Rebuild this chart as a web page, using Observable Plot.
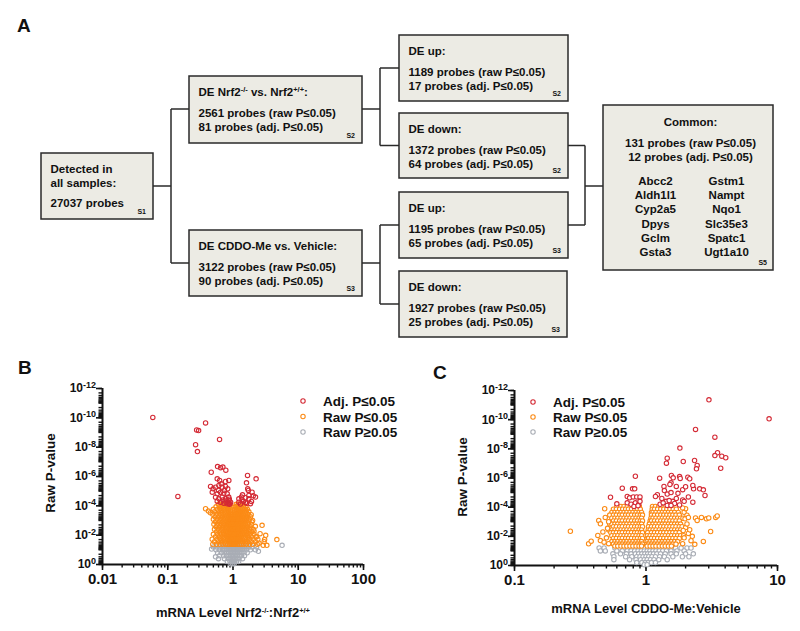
<!DOCTYPE html>
<html><head><meta charset="utf-8">
<script src="https://cdn.jsdelivr.net/npm/d3@7"></script>
<script src="https://cdn.jsdelivr.net/npm/@observablehq/plot@0.6"></script>
<style>
html,body{margin:0;padding:0;background:#fff;}
#root{position:relative;width:800px;height:631px;overflow:hidden;font-family:"Liberation Sans",Arial,sans-serif;font-weight:bold;color:#111;}
.abs{position:absolute;}
.plotwrap svg{overflow:visible;}
.plotwrap g[aria-label^="x-axis"] text{font-size:15px;}
.plotwrap g[aria-label^="y-axis"] text{font-size:12px;}
.plotwrap g[aria-label^="x-axis"] line,.plotwrap g[aria-label^="x-axis"] path,
.plotwrap g[aria-label^="y-axis"] line,.plotwrap g[aria-label^="y-axis"] path{stroke-width:1.4px;stroke:#111;}
</style></head><body><div id="root"></div>
<script>
// ---------------- Panel A content ----------------
const s1Lines = [["Detected in"],["all samples:"],["27037 probes"]];
const s2Lines = [["DE Nrf2",{sup:"-/-"}," vs. Nrf2",{sup:"+/+"},":"],["2561 probes (raw P≤0.05)"],["81 probes (adj. P≤0.05)"]];
const s3Lines = [["DE CDDO-Me vs. Vehicle:"],["3122 probes (raw P≤0.05)"],["90 probes (adj. P≤0.05)"]];
const up2Lines = [["DE up:"],["1189 probes (raw P≤0.05)"],["17 probes (adj. P≤0.05)"]];
const dn2Lines = [["DE down:"],["1372 probes (raw P≤0.05)"],["64 probes (adj. P≤0.05)"]];
const up3Lines = [["DE up:"],["1195 probes (raw P≤0.05)"],["65 probes (adj. P≤0.05)"]];
const dn3Lines = [["DE down:"],["1927 probes (raw P≤0.05)"],["25 probes (adj. P≤0.05)"]];
const commonLines = ["Common:","131 probes (raw P≤0.05)","12 probes (adj. P≤0.05)"];
const commonGenesLeft = ["Abcc2","Aldh1l1","Cyp2a5","Dpys","Gclm","Gsta3"];
const commonGenesRight = ["Gstm1","Nampt","Nqo1","Slc35e3","Spatc1","Ugt1a10"];

// ---------------- Panel B / C data: [ratio, -log10(raw P)] ----------------
const bXTicks = [0.01,0.1,1,10,100];
const cXTicks = [0.1,1,10];
const yTicks = [0,2,4,6,8,10,12];
const minorMultipliers = [2,3,4,5,6,7,8,9];
const legendLabels = ["Adj. P≤0.05","Raw P≤0.05","Raw P≥0.05"];

const bRed = [[0.059,10.03],[0.38,9.65],[0.277,9.17],[0.297,9.13],[0.622,8.53],[0.267,8.17],[0.285,7.70],[0.143,4.64],[0.464,6.29],
 [0.58,6.68],[0.644,6.60],[0.70,6.64],[0.776,6.43],[1.67,6.07],[2.26,5.84],[1.61,5.57],[1.68,5.16],[1.72,5.05],
 [1.96,4.93],[1.75,4.71],[2.05,4.68],[1.55,4.55],[1.23,4.48],[1.38,4.42],[1.75,4.48],[1.92,4.30],[1.23,4.25],[1.55,4.22],
 [1.30,4.12],[1.45,4.30],[1.62,4.18],[2.21,4.60],[1.40,4.75],[1.85,4.15],[1.35,4.60],
 [0.573,5.84],[0.623,5.73],[0.768,5.66],[0.863,5.73],[0.453,5.32],[0.495,5.16],[0.54,5.27],[0.607,5.39],[0.683,5.27],
 [0.768,5.32],[0.83,5.16],[0.481,4.93],[0.573,4.82],[0.644,4.93],[0.723,4.86],[0.815,4.82],[0.54,4.59],[0.607,4.48],
 [0.683,4.59],[0.768,4.48],[0.863,4.37],[0.644,4.25],[0.723,4.18],[0.815,4.14],[0.88,4.10],[0.573,4.32],[0.70,4.40],
 [0.78,4.25],[0.85,4.20],[0.90,4.15],[0.60,5.05],[0.66,5.50],[0.74,5.05],[0.86,4.60],[0.92,4.25],[0.88,4.45],[0.80,4.35]];

const bOrangeRows = [
 [4.10,[0.60,0.66,0.73,0.80,0.87,1.12,1.20,1.30,1.42]],
 [3.93,[0.55,0.62,0.68,0.75,0.82,0.88,0.93,1.08,1.15,1.24,1.34,1.45,1.58]],
 [3.76,[0.50,0.58,0.64,0.71,0.78,0.85,0.91,1.07,1.13,1.21,1.30,1.40,1.52,1.66]],
 [3.59,[0.52,0.60,0.67,0.74,0.81,0.87,0.93,1.06,1.12,1.19,1.27,1.37,1.48,1.60,1.75]],
 [3.42,[0.49,0.56,0.63,0.70,0.77,0.84,0.90,0.95,1.05,1.11,1.18,1.25,1.34,1.44,1.56,1.70]],
 [3.25,[0.53,0.60,0.67,0.74,0.80,0.86,0.92,0.96,1.04,1.09,1.15,1.22,1.30,1.40,1.52,1.65,1.85]],
 [3.08,[0.50,0.57,0.64,0.71,0.78,0.84,0.89,0.94,0.98,1.03,1.08,1.14,1.21,1.29,1.38,1.49,1.62,1.78]],
 [2.91,[0.54,0.61,0.68,0.75,0.81,0.86,0.91,0.95,0.99,1.02,1.07,1.12,1.19,1.27,1.36,1.46,1.58,1.74,1.95]],
 [2.74,[0.51,0.58,0.65,0.72,0.79,0.85,0.90,0.95,0.98,1.02,1.06,1.11,1.17,1.24,1.33,1.43,1.55,1.70,1.90]],
 [2.57,[0.55,0.62,0.69,0.76,0.82,0.88,0.93,0.97,1.00,1.04,1.09,1.15,1.22,1.30,1.40,1.52,1.66,1.84]],
 [2.40,[0.52,0.59,0.66,0.73,0.80,0.86,0.91,0.96,1.00,1.04,1.09,1.14,1.21,1.29,1.38,1.50,1.64,1.80,2.05]],
 [2.23,[0.56,0.63,0.70,0.77,0.83,0.89,0.94,0.98,1.02,1.07,1.12,1.19,1.27,1.36,1.47,1.60,1.76,1.95]],
 [2.06,[0.50,0.58,0.65,0.72,0.79,0.85,0.90,0.95,0.99,1.03,1.08,1.14,1.21,1.29,1.39,1.51,1.65,1.83,2.10]],
 [1.89,[0.54,0.61,0.68,0.75,0.82,0.87,0.92,0.96,1.00,1.04,1.09,1.16,1.24,1.33,1.43,1.56,1.72,1.92,2.25]],
 [1.72,[0.48,0.57,0.64,0.71,0.78,0.84,0.89,0.94,0.98,1.02,1.06,1.12,1.19,1.27,1.37,1.49,1.63,1.80,2.05,2.40]],
 [1.55,[0.52,0.60,0.67,0.74,0.81,0.87,0.92,0.96,1.00,1.04,1.09,1.15,1.22,1.31,1.41,1.54,1.70,1.90,2.20]],
 [1.38,[0.49,0.56,0.63,0.70,0.77,0.83,0.88,0.93,0.97,1.01,1.05,1.10,1.17,1.25,1.34,1.46,1.60,1.78,2.00,2.35]]];
const bOrangeExtra = [[0.38,3.80],[0.42,3.64],[0.45,3.53],[2.79,2.67],[3.17,1.99],[4.70,1.70],[2.90,1.31],[3.30,1.31],
 [2.10,2.28],[2.50,1.45],[3.00,1.55],[2.30,1.90],[3.05,1.70],[2.60,2.10],[2.20,2.60],[2.00,3.00],[1.90,3.40]];

const bGrayRows = [
 [1.20,[0.50,0.56,0.62,0.68,0.74,0.80,0.85,0.90,0.95,1.00,1.05,1.10,1.16,1.23,1.31,1.40,1.50,1.62,1.76,1.95,2.30]],
 [1.00,[0.55,0.62,0.69,0.75,0.81,0.87,0.92,0.97,1.02,1.07,1.13,1.20,1.28,1.37,1.48,1.62,1.85,2.20]],
 [0.80,[0.58,0.66,0.73,0.80,0.86,0.91,0.96,1.01,1.06,1.12,1.19,1.27,1.36,1.48,1.65]],
 [0.60,[0.62,0.72,0.80,0.87,0.93,0.98,1.03,1.09,1.16,1.24,1.34,1.50]],
 [0.40,[0.60,0.74,0.84,0.91,0.97,1.02,1.08,1.15,1.24,1.40]],
 [0.20,[0.82,0.90,0.96,1.01,1.06,1.13,1.22]],
 [0.05,[0.93,0.99,1.04]]];
const bGrayExtra = [[5.65,1.31],[0.54,0.52],[2.45,0.90],[0.47,1.05]];

const cRed = [[3.01,11.36],[8.63,10.06],[2.38,9.33],[3.34,8.80],[1.81,8.05],[3.50,7.73],[3.34,7.54],[3.77,7.50],[4.04,7.39],
 [3.70,6.67],[1.45,7.36],[1.43,7.02],[1.92,7.13],[2.34,7.20],[2.45,6.86],[2.42,6.63],[0.83,6.12],[1.27,5.99],[1.56,6.17],
 [1.61,6.01],[1.80,6.10],[1.82,5.97],[2.08,6.06],[2.15,5.95],[1.55,5.67],[1.52,5.56],[1.37,5.42],[1.38,5.14],[1.70,5.42],
 [1.90,5.20],[2.00,5.40],[2.30,5.26],[2.27,5.49],[2.56,5.26],[2.73,5.19],[2.81,4.80],[1.45,4.90],[1.55,5.00],[1.75,4.95],
 [1.22,4.85],[1.18,4.73],[1.32,4.60],[1.42,4.40],[1.60,4.40],[1.65,4.25],[1.90,4.50],[1.95,4.40],[2.27,4.34],[1.45,4.12],
 [1.55,4.12],[1.28,4.20],[1.80,4.15],[1.35,4.30],[1.70,4.60],[2.10,4.70],[1.50,4.45],
 [0.537,4.68],[0.60,4.23],[0.66,5.30],[0.79,5.26],[0.82,5.26],[0.72,4.73],[0.75,4.64],[0.80,4.70],[0.85,4.70],[0.90,4.70],
 [0.72,4.30],[0.77,4.20],[0.83,4.30],[0.88,4.20],[0.90,4.40],[0.81,4.05],[0.87,4.10]];

const cOrangeRows = [
 [4.05,[0.60,0.645,0.68,0.72,0.76,0.80,0.845,0.89,1.12,1.18,1.25,1.32,1.40,1.48,1.57]],
 [3.86,[0.565,0.595,0.63,0.665,0.70,0.735,0.775,0.82,0.86,0.905,1.115,1.16,1.225,1.295,1.365,1.44,1.52,1.61,1.70]],
 [3.64,[0.55,0.58,0.61,0.645,0.68,0.715,0.755,0.795,0.84,0.885,0.925,1.10,1.13,1.19,1.26,1.33,1.40,1.48,1.56,1.65,1.76]],
 [3.46,[0.53,0.565,0.595,0.63,0.66,0.70,0.735,0.775,0.82,0.86,0.905,0.94,1.10,1.16,1.225,1.295,1.365,1.44,1.52,1.60,1.69,1.79]],
 [3.24,[0.55,0.58,0.61,0.645,0.68,0.715,0.755,0.795,0.84,0.885,0.925,1.09,1.13,1.19,1.26,1.33,1.40,1.48,1.56,1.65,1.74,1.83,1.91]],
 [3.06,[0.565,0.595,0.63,0.66,0.70,0.735,0.775,0.82,0.86,0.905,0.94,1.075,1.10,1.16,1.225,1.295,1.365,1.44,1.52,1.60,1.69,1.79]],
 [2.84,[0.53,0.55,0.58,0.61,0.645,0.68,0.715,0.755,0.795,0.84,0.885,0.925,1.06,1.13,1.19,1.26,1.33,1.40,1.48,1.56,1.65,1.74,1.83]],
 [2.66,[0.565,0.595,0.63,0.66,0.70,0.735,0.775,0.82,0.86,0.905,0.94,1.045,1.10,1.16,1.225,1.295,1.365,1.44,1.52,1.60,1.69,1.79,1.88]],
 [2.44,[0.52,0.55,0.58,0.61,0.645,0.68,0.715,0.755,0.795,0.84,0.885,0.925,1.04,1.075,1.13,1.19,1.26,1.33,1.40,1.48,1.56,1.65,1.74,1.83]],
 [2.26,[0.54,0.565,0.595,0.63,0.66,0.70,0.735,0.775,0.82,0.86,0.905,0.94,1.03,1.10,1.16,1.225,1.295,1.365,1.44,1.52,1.60,1.69,1.79]],
 [2.04,[0.55,0.58,0.61,0.645,0.68,0.715,0.755,0.795,0.84,0.885,0.925,1.025,1.075,1.13,1.19,1.26,1.33,1.40,1.48,1.56,1.65,1.74,1.83,1.93]],
 [1.86,[0.565,0.595,0.63,0.66,0.70,0.735,0.775,0.82,0.86,0.905,0.94,1.02,1.045,1.10,1.16,1.225,1.295,1.365,1.44,1.52,1.60,1.69,1.79]],
 [1.64,[0.55,0.58,0.61,0.645,0.68,0.715,0.755,0.795,0.84,0.885,0.925,1.02,1.075,1.13,1.19,1.26,1.33,1.40,1.48,1.56,1.65,1.74]],
 [1.47,[0.565,0.595,0.63,0.66,0.70,0.735,0.775,0.82,0.86,0.905,0.94,1.015,1.045,1.10,1.16,1.225,1.295,1.365,1.44,1.52,1.60,1.69]],
 [1.33,[0.58,0.61,0.645,0.68,0.715,0.755,0.795,0.84,0.885,0.925,1.02,1.075,1.13,1.19,1.26,1.33,1.40,1.48,1.56]]];
const cOrangeExtra = [[0.266,2.35],[0.366,1.49],[0.383,1.67],[0.45,1.71],[0.485,3.89],[0.437,3.09],[0.45,2.86],[0.49,3.30],
 [0.52,3.00],[0.47,2.30],[0.51,2.55],[0.50,1.90],[0.48,1.60],[0.52,1.50],[0.43,2.06],
 [1.95,3.65],[2.05,3.45],[1.98,3.20],[2.10,3.30],[2.38,3.26],[2.64,3.30],[2.88,3.20],[3.00,3.26],[3.39,3.30],[3.48,3.40],
 [2.45,3.09],[3.10,2.33],[2.73,1.65],[2.00,2.60],[2.10,2.20],[1.95,1.90],[2.20,1.70],[1.92,2.40],[2.05,2.85],[2.25,2.00],
 [1.90,1.50],[2.35,1.45],[2.15,2.45],[2.00,3.90],[1.90,3.95]];

const cGrayRows = [
 [1.20,[0.44,0.48,0.58,0.63,0.68,0.73,0.78,0.83,0.88,0.93,0.98,1.03,1.09,1.15,1.21,1.28,1.36,1.45,1.55,1.68,1.85,2.05,2.20]],
 [1.00,[0.45,0.49,0.60,0.66,0.72,0.77,0.82,0.87,0.92,0.97,1.02,1.07,1.13,1.19,1.26,1.34,1.43,1.55,1.72,1.95]],
 [0.80,[0.56,0.64,0.71,0.77,0.83,0.88,0.93,0.98,1.03,1.08,1.14,1.21,1.29,1.40,1.55,1.70,2.00,2.29]],
 [0.60,[0.57,0.70,0.78,0.85,0.90,0.95,1.00,1.05,1.11,1.18,1.27,1.38,1.60,1.89,2.12]],
 [0.40,[0.57,0.75,0.84,0.91,0.97,1.02,1.08,1.15,1.25,1.45]],
 [0.20,[0.85,0.93,0.99,1.04,1.10,1.18]],
 [0.05,[0.97,1.02]]];

// ---------------- colours ----------------
const RED = "#d42a35", ORANGE = "#fb8b16", GRAY = "#a9adb5";

// ---------------- Panel A drawing ----------------
const root = d3.select("#root");
// overlay for panel letters, axis titles and legends is created first so that it sits underneath the plots
const ov = root.append("svg").attr("class","abs").style("left","0px").style("top","0px").style("pointer-events","none")
  .attr("width",800).attr("height",631)
  .attr("font-family","Liberation Sans, Arial, sans-serif").attr("font-weight","bold").attr("fill","#111");
const svgA = root.append("svg").attr("class","abs").style("left","0px").style("top","0px")
  .attr("width",800).attr("height",345)
  .attr("font-family","Liberation Sans, Arial, sans-serif").attr("font-weight","bold").attr("fill","#111");

const boxLayout = {
  s1:{x:41,y:153,w:112,h:66}, s2:{x:189,y:76,w:173,h:67}, s3:{x:189,y:230,w:173,h:66},
  up2:{x:399,y:35,w:169,h:66}, dn2:{x:399,y:113,w:169,h:65}, up3:{x:399,y:192,w:169,h:66},
  dn3:{x:399,y:271,w:168,h:66}, common:{x:603,y:105,w:170,h:165}
};
const connectors = [
  [[153,186],[171,186]],[[171,109],[171,263]],[[171,109],[189,109]],[[171,263],[189,263]],
  [[362,109],[380,109]],[[380,68],[380,145.5]],[[380,68],[399,68]],[[380,145.5],[399,145.5]],
  [[362,263],[380,263]],[[380,225],[380,304]],[[380,225],[399,225]],[[380,304],[399,304]],
  [[568,145.5],[585,145.5]],[[568,225],[585,225]],[[585,145.5],[585,225]],[[585,186],[603,186]]
];
connectors.forEach(([a,b])=>svgA.append("line").attr("x1",a[0]).attr("y1",a[1]).attr("x2",b[0]).attr("y2",b[1])
  .attr("stroke","#2a2a2a").attr("stroke-width",1.5));

function addSegments(t, segs){
  let raised = false;
  segs.forEach(s=>{
    if (typeof s === "string"){
      const ts = t.append("tspan").text(s);
      if (raised){ ts.attr("dy",4); raised=false; }
    } else {
      t.append("tspan").attr("dy",-4).attr("font-size",7.5).text(s.sup);
      raised = true;
    }
  });
}
function drawBox(key, lines, offsets, sLabel){
  const b = boxLayout[key];
  svgA.append("rect").attr("x",b.x).attr("y",b.y).attr("width",b.w).attr("height",b.h)
    .attr("fill","#ecebe4").attr("stroke","#2a2a2a").attr("stroke-width",1.5);
  lines.forEach((segs,i)=>{
    const t = svgA.append("text").attr("x",b.x+9.5).attr("y",b.y+offsets[i]).attr("font-size",11.5);
    addSegments(t, segs);
  });
  svgA.append("text").attr("x",b.x+b.w-7).attr("y",b.y+b.h-5).attr("text-anchor","end")
    .attr("font-size",7).text(sLabel);
}
const stdOffsets = [20,40.5,54.5];
drawBox("s1", s1Lines, [20,33.5,54], "S1");
drawBox("s2", s2Lines, stdOffsets, "S2");
drawBox("s3", s3Lines, stdOffsets, "S3");
drawBox("up2", up2Lines, stdOffsets, "S2");
drawBox("dn2", dn2Lines, stdOffsets, "S2");
drawBox("up3", up3Lines, stdOffsets, "S3");
drawBox("dn3", dn3Lines, stdOffsets, "S3");
{
  const b = boxLayout.common;
  svgA.append("rect").attr("x",b.x).attr("y",b.y).attr("width",b.w).attr("height",b.h)
    .attr("fill","#ecebe4").attr("stroke","#2a2a2a").attr("stroke-width",1.5);
  [21,41.5,55.5].forEach((o,i)=>svgA.append("text").attr("x",690.5).attr("y",b.y+o).attr("text-anchor","middle")
    .attr("font-size",11.5).text(commonLines[i]));
  const geneOffsets = [80,94,108.3,122.6,136.7,150.7];
  commonGenesLeft.forEach((g,i)=>svgA.append("text").attr("x",655.5).attr("y",b.y+geneOffsets[i]).attr("text-anchor","middle").attr("font-size",11.5).text(g));
  commonGenesRight.forEach((g,i)=>svgA.append("text").attr("x",726.5).attr("y",b.y+geneOffsets[i]).attr("text-anchor","middle").attr("font-size",11.5).text(g));
  svgA.append("text").attr("x",b.x+b.w-6).attr("y",b.y+b.h-5).attr("text-anchor","end").attr("font-size",7).text("S5");
}

// ---------------- Volcano plots ----------------
const rowsToPoints = rows => rows.flatMap(([y, xs]) => xs.map(x => [x, y]));
const yMinor = [];
for (let d = 0; d < 12; d++){
  if (d % 2 === 1) yMinor.push(d);
  minorMultipliers.forEach(m => yMinor.push(+(d + 1 - Math.log10(m)).toFixed(4)));
}
const yAllTicks = yTicks.concat(yMinor).sort((a,b)=>a-b);
function supify(svg){
  const ns = "http://www.w3.org/2000/svg";
  svg.querySelectorAll("text").forEach(t=>{
    const s = t.textContent;
    if (!s.includes("^")) return;
    const [b,e] = s.split("^");
    while (t.firstChild) t.removeChild(t.firstChild);
    const t1 = document.createElementNS(ns,"tspan"); t1.textContent = b; t.appendChild(t1);
    const t2 = document.createElementNS(ns,"tspan"); t2.textContent = e;
    t2.setAttribute("dy","-0.5em"); t2.setAttribute("font-size","9px"); t.appendChild(t2);
  });
}
function volcano({left, top, width, height, margins, xDomain, xTicks, xMinor, gray, orange, red, dotFill}){
  const [mt, mr, mb, ml] = margins;
  const majorLen = 6;
  const yPerPx = 12 / (height - mt - mb);
  const decadesPerPx = Math.log10(xDomain[1] / xDomain[0]) / (width - ml - mr);
  const majorYEnd = xDomain[0] * Math.pow(10, -majorLen * decadesPerPx);
  const xAllTicks = xTicks.concat(xMinor).sort((a,b)=>a-b);
  const dotOpts = (color) => ({x: d=>d[0], y: d=>d[1], r: 2.2, stroke: color, strokeWidth: 1.1, fill: dotFill});
  const svg = Plot.plot({
    width, height, marginTop: mt, marginRight: mr, marginBottom: mb, marginLeft: ml,
    style: {fontFamily: "Liberation Sans, Arial, sans-serif", fontSize: "12px", fontWeight: "bold", color: "#111", background: "transparent"},
    x: {type: "log", domain: xDomain, ticks: xAllTicks, tickFormat: d => xTicks.includes(d) ? String(d) : "", tickSize: 3.5, tickPadding: 5, label: null},
    y: {domain: [0,12], ticks: yAllTicks, tickFormat: d => !yTicks.includes(d) ? "" : d === 0 ? "10^0" : "10^-" + d, tickSize: 3.5, tickPadding: 3, label: null},
    marks: [
      Plot.ruleX(xTicks, {x: d=>d, y1: () => 0, y2: () => -majorLen * yPerPx, stroke: "#111", strokeWidth: 1.6}),
      Plot.ruleY(yTicks, {y: d=>d, x1: () => xDomain[0], x2: () => majorYEnd, stroke: "#111", strokeWidth: 1.6}),
      Plot.ruleY([0], {stroke: "#111", strokeWidth: 2}),
      Plot.ruleX([xDomain[0]], {stroke: "#111", strokeWidth: 2}),
      Plot.dot(gray, dotOpts(GRAY)),
      Plot.dot(orange, dotOpts(ORANGE)),
      Plot.dot(red, dotOpts(RED))
    ]
  });
  supify(svg);
  root.append("div").attr("class","abs plotwrap").style("left", left+"px").style("top", top+"px").node().appendChild(svg);
}
const bXMinor = [0.01,0.1,1,10].flatMap(d => minorMultipliers.map(m => +(m*d).toPrecision(3)));
const cXMinor = [0.1,1].flatMap(d => minorMultipliers.map(m => +(m*d).toPrecision(3)));

volcano({left:0, top:370, width:400, height:220, margins:[18,37,26,102], xDomain:[0.01,100], xTicks:bXTicks, xMinor:bXMinor,
  gray: rowsToPoints(bGrayRows).concat(bGrayExtra), orange: rowsToPoints(bOrangeRows).concat(bOrangeExtra), red: bRed, dotFill: "none"});
volcano({left:400, top:370, width:400, height:220, margins:[20,23,25,114], xDomain:[0.1,10], xTicks:cXTicks, xMinor:cXMinor,
  gray: rowsToPoints(cGrayRows), orange: rowsToPoints(cOrangeRows).concat(cOrangeExtra), red: cRed, dotFill: "white"});

// ---------------- overlay content ----------------
[["A",17,32],["B",18,374],["C",433,379]].forEach(([s,x,y])=>ov.append("text").attr("x",x).attr("y",y).attr("font-size",19).text(s));
[[55,473],[466.5,477]].forEach(([x,y])=>ov.append("text").attr("transform",`translate(${x},${y}) rotate(-90)`)
  .attr("text-anchor","middle").attr("font-size",13.5).text("Raw P-value"));
{
  const t = ov.append("text").attr("x",233).attr("y",617).attr("text-anchor","middle").attr("font-size",13);
  addSegments(t, ["mRNA Level Nrf2",{sup:"-/-"},":Nrf2",{sup:"+/+"}]);
  ov.append("text").attr("x",646).attr("y",613).attr("text-anchor","middle").attr("font-size",13).text("mRNA Level CDDO-Me:Vehicle");
}
function legend(mx, tx, ys){
  const cols = [RED, ORANGE, GRAY];
  legendLabels.forEach((lab,i)=>{
    ov.append("circle").attr("cx",mx).attr("cy",ys[i]).attr("r",2.2).attr("fill","none").attr("stroke",cols[i]).attr("stroke-width",1.1);
    ov.append("text").attr("x",tx).attr("y",ys[i]+5).attr("font-size",13.5).text(lab);
  });
}
legend(303, 323, [401,416.5,432]);
legend(533, 553, [402,417,432]);
</script></body></html>
